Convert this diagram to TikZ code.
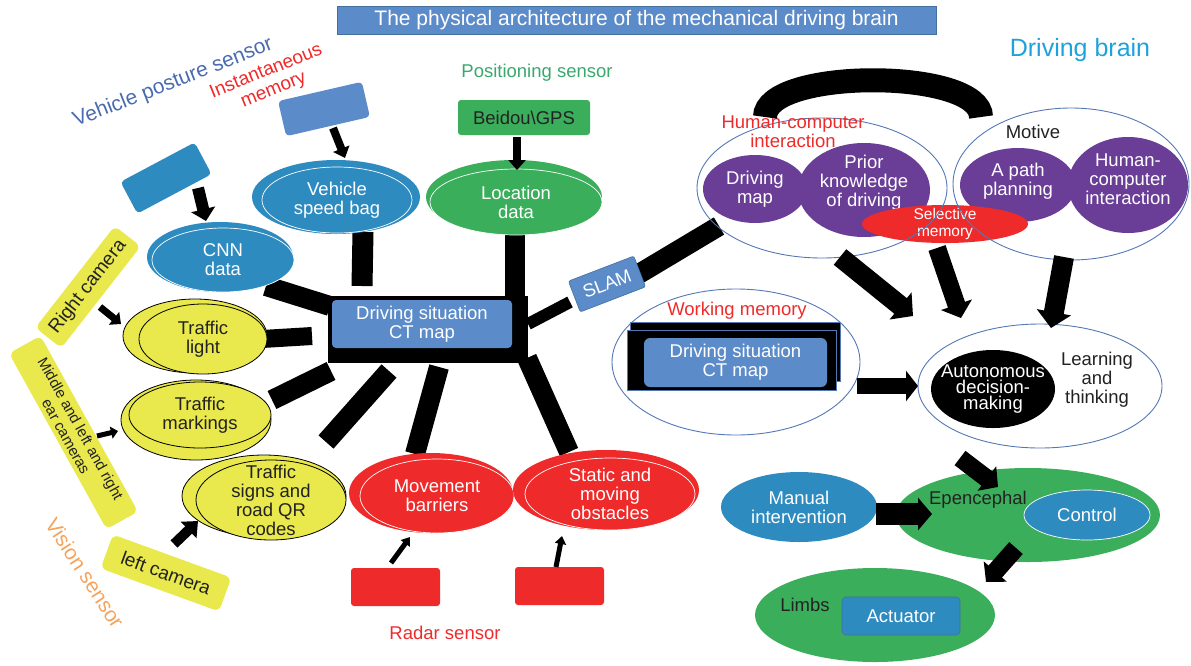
\documentclass[tikz,border=0pt]{standalone}
\usepackage{fontspec}
\setmainfont{Liberation Sans}
\usetikzlibrary{arrows.meta,shapes.geometric}
\pgfdeclarelayer{bg}
\pgfsetlayers{bg,main}
\definecolor{dblue}{HTML}{2E8BC0}
\definecolor{lblue}{HTML}{5B8BC9}
\definecolor{lbluedk}{HTML}{41719C}
\definecolor{cgreen}{HTML}{3BAE5C}
\definecolor{cyel}{HTML}{E9E84C}
\definecolor{cred}{HTML}{EE2A2A}
\definecolor{cpurp}{HTML}{6A3D97}
\definecolor{thinb}{HTML}{5578B5}
\definecolor{brainb}{HTML}{1FA2DC}
\definecolor{postb}{HTML}{4A6BAF}
\definecolor{posg}{HTML}{3AA86C}
\definecolor{visor}{HTML}{F5A35C}
\definecolor{dtext}{HTML}{222222}
\tikzset{
 ell/.style={ellipse, inner sep=0pt},
 rbox/.style={rectangle, inner sep=0pt, rounded corners=4pt},
 lab/.style={align=center, font=\fontsize{18.5}{19}\selectfont},
 wl/.style={lab, text=white},
 kl/.style={lab, text=dtext},
 thickbar/.style={black, line width=#1},
 thickbar/.default=20pt,
 blk/.style n args={3}{black, line width=#1, -{Triangle[width=#2,length=#3]}},
 grp/.style={ellipse, inner sep=0pt, draw=thinb, line width=0.9pt},
}
\begin{document}
\begin{tikzpicture}[x=1pt,y=-1pt]
\useasboundingbox (0,0) rectangle (1191,665);

% title and free labels
\node[rbox, rounded corners=0pt, fill=lblue, draw=lbluedk, line width=0.6pt, minimum width=599pt, minimum height=28pt, wl, font=\fontsize{21}{22}\selectfont] (title) at (636.5,20) {The physical architecture of the mechanical driving brain};
\node[text=brainb, font=\fontsize{25}{26}\selectfont] (brain) at (1080,50) {Driving brain};
\node[text=postb, font=\fontsize{21}{22}\selectfont, rotate=21.5] (vps) at (173,83) {Vehicle posture sensor};
\node[lab, text=cred, font=\fontsize{19}{20}\selectfont, rotate=22] (imem) at (270,81) {Instantaneous\\memory};
\node[lab, text=posg] (possens) at (537,73) {Positioning sensor};
\node[lab, text=cred] (radar) at (445,633) {Radar sensor};
\node[text=visor, font=\fontsize{21}{22}\selectfont, rotate=-57] (vision) at (85,573) {Vision sensor};

% posture / memory boxes
\node[rbox, fill=dblue, rotate=28, minimum width=84pt, minimum height=36pt] (posbox) at (166,178) {};
\node[rbox, fill=lblue, rotate=13, minimum width=86pt, minimum height=36pt] (instbox) at (324,109) {};

% CNN
\fill[dblue] (220,257) ellipse [x radius=73, y radius=35];
\node[ell, fill=dblue, draw=white, line width=0.7pt, minimum width=142pt, minimum height=64pt, label={[wl]center:CNN\\data}] (cnn) at (223,260) {};
% speed bag
\fill[dblue] (336,197) ellipse [x radius=84, y radius=37];
\node[ell, fill=dblue, draw=white, line width=0.7pt, minimum width=150pt, minimum height=66pt, label={[wl]center:Vehicle\\speed bag}] (speed) at (337,200) {};
% location
\fill[cgreen] (514,197) ellipse [x radius=88, y radius=37];
\node[ell, fill=cgreen, draw=white, line width=0.7pt, minimum width=172pt, minimum height=66pt, label={[wl]center:Location\\data}] (loc) at (516,202) {};
\node[rbox, rounded corners=3pt, fill=cgreen, minimum width=132pt, minimum height=35pt, kl] (beidou) at (524,117.5) {Beidou\textbackslash GPS};

% CT map
\node[rectangle, fill=black, minimum width=200pt, minimum height=67pt, inner sep=0pt] (ct) at (428,329.5) {};
\node[rbox, fill=lblue, minimum width=180pt, minimum height=48pt, wl] (ctin) at (422,324) {Driving situation\\CT map};

% SLAM
\node[rbox, rounded corners=2pt, fill=lblue, draw=lbluedk, line width=0.6pt, rotate=21, minimum width=70pt, minimum height=33pt, wl] (slam) at (607,284) {SLAM};

% vision sensor side
\node[rbox, rounded corners=6pt, fill=cyel, rotate=52, minimum width=129pt, minimum height=33pt, kl, font=\fontsize{19}{20}\selectfont] (rcam) at (88,287) {Right camera};
\fill[cyel, draw=black, line width=0.8pt] (195,336) ellipse [x radius=72, y radius=37];
\node[ell, fill=cyel, draw=black, line width=0.8pt, minimum width=128pt, minimum height=70pt, label={[kl]center:Traffic\\light}] (tl) at (203,339) {};
\node[rbox, rounded corners=6pt, fill=cyel, rotate=-61, minimum width=201pt, minimum height=36pt, kl, font=\fontsize{15}{16.5}\selectfont] (mcam) at (73.5,432.5) {Middle and left and right\\ear cameras};
\fill[cyel, draw=black, line width=0.8pt] (196,420) ellipse [x radius=75, y radius=40];
\node[ell, fill=cyel, draw=black, line width=0.8pt, minimum width=142pt, minimum height=66pt, label={[kl]center:Traffic\\markings}] (tm) at (200,415) {};
\node[rbox, rounded corners=6pt, fill=cyel, rotate=-20, minimum width=126pt, minimum height=36pt, kl, font=\fontsize{19}{20}\selectfont] (lcam) at (166,573) {left camera};
\fill[cyel, draw=black, line width=0.8pt] (264,496) ellipse [x radius=82, y radius=41];
\node[ell, fill=cyel, draw=black, line width=0.8pt, minimum width=150pt, minimum height=80pt, label={[kl]center:Traffic\\signs and\\road QR\\codes}] (ts) at (271,500) {};

% radar side
\fill[cred] (431,493) ellipse [x radius=82, y radius=40];
\node[ell, fill=cred, draw=white, line width=0.7pt, minimum width=154pt, minimum height=74pt, label={[wl]center:Movement\\barriers}] (mb) at (437,496) {};
\fill[cred] (606,490) ellipse [x radius=93, y radius=40];
\node[ell, fill=cred, draw=white, line width=0.7pt, minimum width=170pt, minimum height=72pt, label={[wl]center:Static and\\moving\\obstacles}] (so) at (610,494) {};
\node[rbox, rounded corners=3pt, fill=cred, minimum width=89pt, minimum height=38pt] (r1) at (395.5,587) {};
\node[rbox, rounded corners=3pt, fill=cred, minimum width=89pt, minimum height=38pt] (r2) at (559.5,586) {};

% driving brain: upper groups
\node[ell, fill=cpurp, minimum width=104pt, minimum height=68pt, label={[wl]center:Driving\\map}] (dmap) at (755,189) {};
\node[ell, fill=cpurp, minimum width=132pt, minimum height=94pt, label={[wl,yshift=7pt]center:Prior\\knowledge\\of driving}] (prior) at (864,190) {};
\node[ell, fill=cpurp, minimum width=116pt, minimum height=74pt, label={[wl,yshift=4pt]center:A path\\planning}] (path) at (1018,185) {};
\node[ell, fill=cpurp, minimum width=120pt, minimum height=96pt, label={[wl,yshift=6pt]center:Human-\\computer\\interaction}] (hci) at (1128,185) {};
\node[ell, fill=cred, minimum width=166pt, minimum height=38pt, label={[wl, font=\fontsize{15.5}{16.5}\selectfont]center:Selective\\memory}] (sel) at (945,224) {};
\node[grp, minimum width=250pt, minimum height=140pt] (hcig) at (822,188) {};
\node[grp, minimum width=236pt, minimum height=152pt] (mot) at (1071,184) {};
\node[lab, text=cred] (hcit) at (793,132) {Human-computer\\interaction};
\node[kl] (motive) at (1033,132) {Motive};
\draw[line width=24pt] ([shift={(-57,-71)}]hcig.center) .. controls +(0,-49) and +(0,-49) .. ([shift={(-90,-67)}]mot.center);

% working memory
\node[grp, minimum width=248pt, minimum height=146pt] (wm) at (736,362) {};
\node[lab, text=cred] (wmt) at (737,311) {Working memory};
\node[rectangle, inner sep=0pt, fill=black, draw=thinb, line width=0.5pt, minimum width=210pt, minimum height=59pt] (wmb) at (735,351.5) {};
\node[rectangle, inner sep=0pt, fill=black, draw=thinb, line width=0.5pt, minimum width=209pt, minimum height=60pt] (wmf) at (731.5,360) {};
\node[rbox, rounded corners=6pt, fill=lblue, minimum width=183pt, minimum height=49pt, wl] (wmin) at (735.5,362.5) {Driving situation\\CT map};

% autonomous decision
\node[grp, fill=white, minimum width=244pt, minimum height=124pt] (ag) at (1040,386) {};
\node[ell, fill=black, minimum width=124pt, minimum height=78pt, label={[wl, font=\fontsize{18.5}{16}\selectfont]center:Autonomous\\decision-\\making}] (auto) at (993,389) {};
\node[kl] (learn) at (1097,380) {Learning\\and\\thinking};

% execution
\node[ell, fill=dblue, minimum width=156pt, minimum height=70pt, label={[wl]center:Manual\\intervention}] (man) at (799,507) {};
\node[ell, fill=cgreen, minimum width=264pt, minimum height=94pt] (epen) at (1028,515) {};
\node[ell, fill=dblue, draw=white, line width=0.7pt, minimum width=126pt, minimum height=50pt, wl] (ctrl) at (1087,515) {Control};
\node[kl] (epent) at (978,500) {Epencephal};
\node[ell, fill=cgreen, minimum width=240pt, minimum height=94pt] (limbs) at (875,615) {};
\node[kl] (limbst) at (805,605) {Limbs};
\node[rbox, fill=dblue, draw=lbluedk, line width=0.6pt, minimum width=118pt, minimum height=38pt, wl] (act) at (901,616) {Actuator};

% thick bars (under the nodes)
\begin{pgfonlayer}{bg}
\draw[thickbar] ([shift={(43,26)}]cnn.center) -- ([shift={(-98,-23.5)}]ct.center);
\draw[thickbar=21pt] ([shift={(26,32)}]speed.center) -- ([shift={(-66,-43.5)}]ct.center);
\draw[thickbar] ([shift={(-1,30)}]loc.center) -- ([shift={(87,-33.5)}]ct.center);
\draw[thickbar=18pt] ([shift={(59,0)}]tl.center) -- ([shift={(-116,6.5)}]ct.center);
\draw[thickbar] ([shift={(72,-15)}]tm.center) -- ([shift={(-97,41.5)}]ct.center);
\draw[thickbar] ([shift={(-39,41.5)}]ct.center) -- ([shift={(55,-58)}]ts.center);
\draw[thickbar] ([shift={(11,37.5)}]ct.center) -- ([shift={(-22,-42)}]mb.center);
\draw[thickbar] ([shift={(99,28.5)}]ct.center) -- ([shift={(-41,-42)}]so.center);
\draw[thickbar=12pt] ([shift={(100,-5.5)}]ct.center) -- ([shift={(-37,18)}]slam.center);
\draw[thickbar] ([shift={(30,-9)}]slam.center) -- ([shift={(-103,38)}]hcig.center);
\end{pgfonlayer}

% block arrows
\draw[blk={12pt}{24pt}{12pt}] ([shift={(32,10)}]posbox.center) -- ([shift={(-17,-39)}]cnn.center);
\draw[blk={8pt}{17pt}{10pt}] ([shift={(9,19)}]instbox.center) -- ([shift={(8,-42)}]speed.center);
\draw[blk={8pt}{17pt}{10pt}] ([shift={(-7,19.5)}]beidou.center) -- ([shift={(1,-32)}]loc.center);
\draw[blk={7pt}{16pt}{9pt}] ([shift={(12,20)}]rcam.center) -- ([shift={(-82,-15)}]tl.center);
\draw[blk={5pt}{12pt}{7pt}] ([shift={(23.5,3.5)}]mcam.center) -- ([shift={(-82,16)}]tm.center);
\draw[blk={10pt}{22pt}{13pt}] ([shift={(8,-29)}]lcam.center) -- ([shift={(-73,21)}]ts.center);
\draw[blk={5pt}{11pt}{8pt}] ([shift={(-4.5,-24)}]r1.center) -- ([shift={(-27,41)}]mb.center);
\draw[blk={5pt}{11pt}{8pt}] ([shift={(-3.5,-19)}]r2.center) -- ([shift={(-48,42)}]so.center);
\draw[blk={16pt}{30pt}{12pt}] ([shift={(121,24)}]wm.center) -- ([shift={(-122,0)}]ag.center);
\draw[blk={20pt}{34pt}{16pt}] ([shift={(18,69)}]hcig.center) -- ([shift={(-127,-70)}]ag.center);
\draw[blk={18pt}{32pt}{14pt}] ([shift={(-8,24)}]sel.center) -- ([shift={(-79,-68)}]ag.center);
\draw[blk={20pt}{34pt}{16pt}] ([shift={(-7,73)}]mot.center) -- ([shift={(11,-58)}]ag.center);
\draw[blk={18pt}{30pt}{14pt}] ([shift={(-80,72)}]ag.center) -- ([shift={(-30,-28)}]epen.center);
\draw[blk={22pt}{32pt}{14pt}] ([shift={(77,7)}]man.center) -- ([shift={(-96,-1)}]epen.center);
\draw[blk={18pt}{30pt}{14pt}] ([shift={(-12,33)}]epen.center) -- ([shift={(111,-33)}]limbs.center);
\end{tikzpicture}
\end{document}
